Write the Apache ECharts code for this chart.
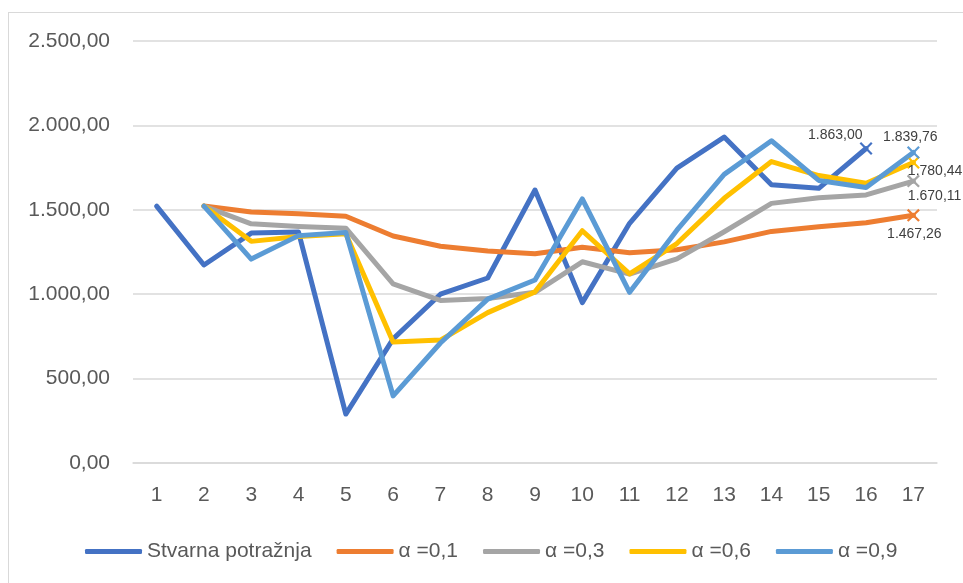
<!DOCTYPE html>
<html>
<head>
<meta charset="utf-8">
<script src="https://cdn.jsdelivr.net/npm/echarts@6/dist/echarts.min.js"></script>
<style>
  html, body { margin: 0; padding: 0; background: #fff; overflow: hidden; }
  #frame { position: absolute; left: 8px; top: 12px; width: 980px; height: 600px; border: 1px solid #d9d9d9; }
  #chart { position: absolute; left: 0; top: 0; width: 963px; height: 583px; }
</style>
</head>
<body>
<div id="frame"></div>
<div id="chart"></div>
<script>
// periods
var categories = ['1', '2', '3', '4', '5', '6', '7', '8', '9', '10', '11', '12', '13', '14', '15', '16', '17'];

// actual demand and the forecasts for each alpha
var stvarna = [1522, 1173, 1362, 1368, 290, 735, 1000, 1096, 1617, 950, 1420, 1747, 1931, 1648, 1627, 1863, null];
var alpha01 = [null, 1522, 1487, 1476, 1462, 1345, 1284, 1256, 1240, 1278, 1245, 1263, 1310, 1372, 1400, 1423, 1467.26];
var alpha03 = [null, 1522, 1417, 1401, 1391, 1061, 963, 974, 1011, 1192, 1119, 1209, 1370, 1538, 1571, 1588, 1670.11];
var alpha06 = [null, 1522, 1313, 1342, 1358, 717, 728, 891, 1014, 1376, 1120, 1300, 1568, 1786, 1703, 1657, 1780.44];
var alpha09 = [null, 1522, 1208, 1347, 1366, 398, 711, 971, 1084, 1564, 1011, 1379, 1710, 1909, 1674, 1632, 1839.76];

var seriesNames = ['Stvarna potražnja', 'α =0,1', 'α =0,3', 'α =0,6', 'α =0,9'];
var seriesColors = ['#4472C4', '#ED7D31', '#A5A5A5', '#FFC000', '#5B9BD5'];

var yTicks = [0, 500, 1000, 1500, 2000, 2500];

var crossPath = 'path://M0,1.2L1.2,0L5,3.8L8.8,0L10,1.2L6.2,5L10,8.8L8.8,10L5,6.2L1.2,10L0,8.8L3.8,5Z';

// 1234.5 -> "1.234,50"
function fmt(v) {
    var s = Number(v).toFixed(2).split('.');
    var int = s[0].replace(/\B(?=(\d{3})+(?!\d))/g, '.');
    return int + ',' + s[1];
}

// last point of a series gets the cross marker and its value label
function withEndMark(data, idx, position, offset) {
    var res = data.slice();
    res[idx] = {
        value: data[idx],
        symbol: crossPath,
        symbolSize: 13,
        label: {
            show: true,
            position: position,
            offset: offset,
            formatter: function (p) { return fmt(p.value); },
            color: '#404040',
            fontSize: 14,
            fontFamily: 'Liberation Sans'
        }
    };
    return res;
}

function makeSeries(i, data) {
    return {
        name: seriesNames[i],
        type: 'line',
        data: data,
        symbol: 'none',
        showSymbol: true,
        connectNulls: false,
        color: seriesColors[i],
        lineStyle: { width: 5, cap: 'round', join: 'round' },
        emphasis: { disabled: true }
    };
}

var chart = echarts.init(document.getElementById('chart'), null, { renderer: 'canvas' });

chart.setOption({
    animation: false,
    textStyle: { fontFamily: 'Liberation Sans' },
    grid: { left: 133, right: 26, top: 41, bottom: 120 },
    legend: {
        left: 80,
        top: 536,
        icon: 'roundRect',
        itemWidth: 57,
        itemHeight: 5,
        itemGap: 25,
        textStyle: { color: '#595959', fontSize: 21, fontFamily: 'Liberation Sans' },
        data: seriesNames
    },
    xAxis: {
        type: 'category',
        data: categories,
        boundaryGap: true,
        axisLine: { show: true, lineStyle: { color: '#d9d9d9', width: 1.5 } },
        axisTick: { show: false },
        axisLabel: { color: '#595959', fontSize: 21, margin: 22 }
    },
    yAxis: {
        type: 'value',
        min: yTicks[0],
        max: yTicks[yTicks.length - 1],
        interval: 500,
        axisLine: { show: false },
        axisTick: { show: false },
        splitLine: { lineStyle: { color: '#d9d9d9', width: 1.5 } },
        axisLabel: { color: '#595959', fontSize: 21, margin: 23, formatter: fmt }
    },
    series: [
        makeSeries(0, withEndMark(stvarna, 15, 'left', [8, -13])),
        makeSeries(1, withEndMark(alpha01, 16, 'bottom', [1, 0])),
        makeSeries(2, withEndMark(alpha03, 16, 'right', [-17, 15])),
        makeSeries(3, withEndMark(alpha06, 16, 'right', [-17, 9])),
        makeSeries(4, withEndMark(alpha09, 16, 'top', [-3, 3]))
    ]
});
</script>
</body>
</html>
